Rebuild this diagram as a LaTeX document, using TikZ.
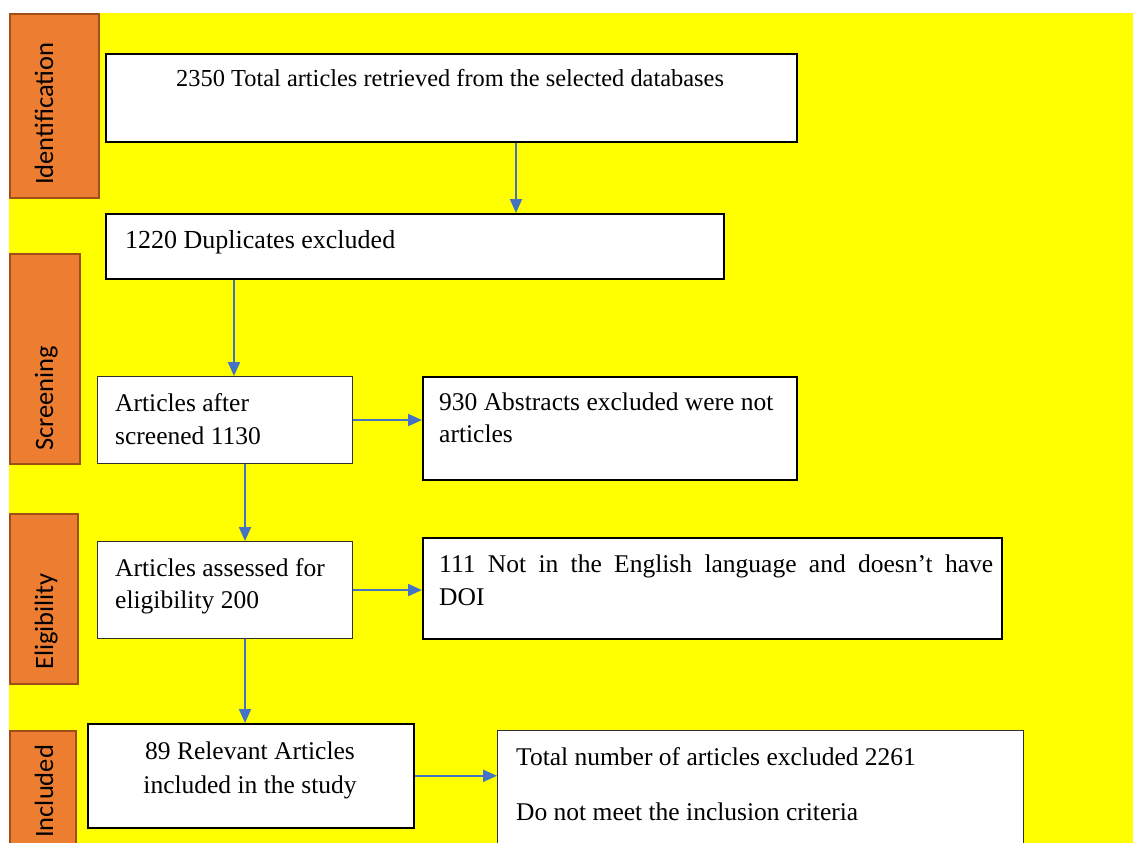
\documentclass[tikz,border=0pt]{standalone}
\usepackage{fontspec}
\setmainfont{Liberation Serif}
\newfontfamily\tabfont{Carlito}
\usetikzlibrary{arrows.meta}
\definecolor{bgyellow}{HTML}{FFFF00}
\definecolor{taborange}{HTML}{ED7D31}
\definecolor{tabborder}{HTML}{A04E16}
\definecolor{arrowblue}{HTML}{4472C4}
\definecolor{thinborder}{HTML}{303030}
\tikzset{
  box/.style={draw=black, line width=1.6pt, fill=white, inner sep=0pt, anchor=north west},
  thinbox/.style={box, draw=thinborder, line width=1.1pt},
  tabbox/.style={draw=tabborder, line width=1.6pt, fill=taborange, inner sep=0pt, anchor=north west},
  tabtxt/.style={inner sep=0pt, rotate=90, anchor=base west, font=\tabfont\fontsize{26.5}{30}\selectfont},
  txt/.style={inner sep=0pt, anchor=base west, font=\fontsize{25.5}{30}\selectfont},
  ctxt/.style={txt, anchor=base},
  arr/.style={draw=arrowblue, line width=2pt, -{Triangle[length=14pt,width=12pt]}}
}
\begin{document}
\begin{tikzpicture}[x=1pt,y=-1pt]
\useasboundingbox (0,0) rectangle (1133,843);
\clip (0,0) rectangle (1133,843);
\fill[white] (0,0) rectangle (1133,843);
\fill[bgyellow] (9,13) rectangle (1133,850);

% stage tabs
\node[tabbox, minimum width=89pt, minimum height=184pt] (tab1) at (9,13) {};
\node[tabbox, minimum width=70pt, minimum height=210pt] (tab2) at (9,253) {};
\node[tabbox, minimum width=68pt, minimum height=170pt] (tab3) at (9,513) {};
\node[tabbox, minimum width=66pt, minimum height=125pt] (tab4) at (9,730) {};
\node[tabtxt] (t1) at (53,185) {Identification};
\node[tabtxt] (t2) at (53,451) {Screening};
\node[tabtxt] (t3) at (53,670) {Eligibility};
\node[tabtxt] (t4) at (53,838) {Included};

% boxes
\node[box, minimum width=691pt, minimum height=88pt] (box1) at (105,53) {};
\node[box, minimum width=618pt, minimum height=65pt] (box2) at (105,213) {};
\node[thinbox, minimum width=255pt, minimum height=87pt] (box3) at (97,376) {};
\node[box, minimum width=374pt, minimum height=103pt] (box4) at (422,376) {};
\node[thinbox, minimum width=255pt, minimum height=97pt] (box5) at (97,541) {};
\node[box, minimum width=579pt, minimum height=101pt] (box6) at (422,537) {};
\node[box, minimum width=326pt, minimum height=104pt] (box7) at (87,723) {};
\node[thinbox, minimum width=526pt, minimum height=125pt] (box8) at (497,730) {};

% texts
\node[txt, font=\fontsize{24.4}{30}\selectfont] (l1) at (176,87) {2350 Total articles retrieved from the selected databases};
\node[txt, font=\fontsize{26}{30}\selectfont] (l2) at (125,248) {1220 Duplicates excluded};
\node[txt] (l3a) at (115,411) {Articles after};
\node[txt] (l3b) at (115,444) {screened 1130};
\node[txt] (l4a) at (439,410) {930 Abstracts excluded were not};
\node[txt] (l4b) at (439,442) {articles};
\node[txt] (l5a) at (115,576) {Articles assessed for};
\node[txt] (l5b) at (115,608) {eligibility 200};
\node[txt] (l6a) at (439,572) {\makebox[554pt][s]{111 Not in the English language and doesn’t have}};
\node[txt] (l6b) at (439,605) {DOI};
\node[ctxt] (l7a) at (250,759) {89 Relevant Articles};
\node[ctxt] (l7b) at (250,793) {included in the study};
\node[txt] (l8a) at (516,765) {Total number of articles excluded 2261};
\node[txt] (l8b) at (516,820) {Do not meet the inclusion criteria};

% connectors
\coordinate (a1) at (516,0);
\coordinate (a2) at (234,0);
\coordinate (a3) at (245,0);
\draw[arr] (box1.south -| a1) -- (box2.north -| a1);
\draw[arr] (box2.south -| a2) -- (box3.north -| a2);
\draw[arr] (box3.south -| a3) -- (box5.north -| a3);
\draw[arr] (box5.south -| a3) -- (box7.north -| a3);
\draw[arr] (box3.east) -- (box3.east -| box4.west);
\draw[arr] (box5.east) -- (box5.east -| box6.west);
\draw[arr] (box7.east) -- (box7.east -| box8.west);
\end{tikzpicture}
\end{document}
